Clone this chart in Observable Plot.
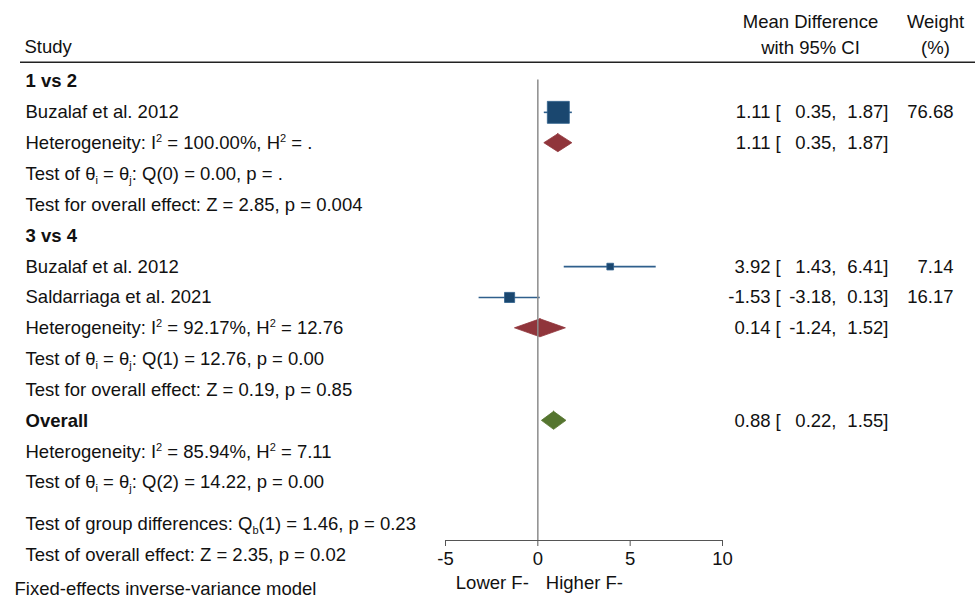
<!DOCTYPE html>
<html><head><meta charset="utf-8">
<script src="https://cdn.jsdelivr.net/npm/d3@7"></script>
<script src="https://cdn.jsdelivr.net/npm/@observablehq/plot@0.6"></script>
<style>
body{margin:0;background:#fff}
svg{display:block}
svg text{white-space:pre}
</style>
</head><body><div id="chart"></div>
<script>
// ---- data ----
const groups = ["1 vs 2", "3 vs 4"];
const studyNames = ["Buzalaf et al. 2012", "Buzalaf et al. 2012", "Saldarriaga et al. 2021"];
const studyGroup = [0, 1, 1];
const studyEst = [1.11, 3.92, -1.53];
const studyLo = [0.35, 1.43, -3.18];
const studyHi = [1.87, 6.41, 0.13];
const studyWeight = [76.68, 7.14, 16.17];
const subEst = [1.11, 0.14];
const subLo = [0.35, -1.24];
const subHi = [1.87, 1.52];
const subHeterogeneity = ["Heterogeneity: I^2 = 100.00%, H^2 = .", "Heterogeneity: I^2 = 92.17%, H^2 = 12.76"];
const subHomogeneity = ["Test of θ_i = θ_j: Q(0) = 0.00, p = .", "Test of θ_i = θ_j: Q(1) = 12.76, p = 0.00"];
const subEffect = ["Test for overall effect: Z = 2.85, p = 0.004", "Test for overall effect: Z = 0.19, p = 0.85"];
const overallLabel = "Overall";
const overallEst = 0.88;
const overallLo = 0.22;
const overallHi = 1.55;
const overallLines = ["Heterogeneity: I^2 = 85.94%, H^2 = 7.11", "Test of θ_i = θ_j: Q(2) = 14.22, p = 0.00"];
const footerLines = ["Test of group differences: Q_b(1) = 1.46, p = 0.23", "Test of overall effect: Z = 2.35, p = 0.02"];
const modelNote = "Fixed-effects inverse-variance model";
const xTicks = [-5, 0, 5, 10];
const xSideLabels = ["Lower F-", "Higher F-"];
const headerStudy = "Study";
const headerEffect = ["Mean Difference", "with 95% CI"];
const headerWeight = ["Weight", "(%)"];

// ---- layout ----
const W = 978, H = 598;
const rowTop = 81, rowStep = 30.85, nRows = 16;
const marginBottom = 58;
const axisRow = (H - marginBottom - rowTop) / rowStep;
const font = "'Liberation Sans', Arial, Helvetica, sans-serif";
const FS = 18.5;
const fmt = d3.formatLocale({decimal: ".", thousands: ",", grouping: [3], currency: ["", ""], minus: "-"}).format(".2f");
const blue = "#1a476f", red = "#90353b", green = "#55752f";

const left = [];      // text rows on the left
const studies = [];   // study rows
const diamonds = [];  // pooled rows
let r = 0;
groups.forEach((g, gi) => {
  left.push({row: r++, text: g, bold: true});
  studyNames.forEach((s, si) => {
    if (studyGroup[si] !== gi) return;
    left.push({row: r, text: s});
    studies.push({row: r, est: studyEst[si], lo: studyLo[si], hi: studyHi[si], w: studyWeight[si]});
    r++;
  });
  left.push({row: r, text: subHeterogeneity[gi]});
  diamonds.push({row: r, est: subEst[gi], lo: subLo[gi], hi: subHi[gi], color: red});
  r++;
  left.push({row: r++, text: subHomogeneity[gi]});
  left.push({row: r++, text: subEffect[gi]});
});
left.push({row: r, text: overallLabel, bold: true});
diamonds.push({row: r, est: overallEst, lo: overallLo, hi: overallHi, color: green});
r++;
overallLines.forEach(t => left.push({row: r++, text: t}));
r += 0.33; left.push({row: r, text: footerLines[0]});
r += 1.03; left.push({row: r, text: footerLines[1]});
r += 1.1;
const noteRow = r;

const halfH = 9 / rowStep;
const diamondPts = diamonds.flatMap((d, i) => [
  {id: i, row: d.row - halfH, x1: d.est, x2: d.est, color: d.color},
  {id: i, row: d.row, x1: d.lo, x2: d.hi, color: d.color},
  {id: i, row: d.row + halfH, x1: d.est, x2: d.est, color: d.color}
]);
const numRows = [
  ...studies.map(d => ({...d, weight: fmt(d.w)})),
  ...diamonds.map(d => ({...d, weight: ""}))
];

const txt = (data, o) => Plot.text(data, {frameAnchor: "left", fontSize: FS, fill: "#111", lineAnchor: "middle", ...o});

const chart = Plot.plot({
  width: W, height: H,
  marginTop: 0, marginLeft: 0, marginRight: 0, marginBottom,
  style: {fontFamily: font, fontSize: FS + "px", background: "#fff", color: "#111"},
  x: {domain: [xTicks[0], xTicks[xTicks.length - 1]], range: [445, 722]},
  y: {domain: [0, nRows], range: [rowTop, rowTop + rowStep * nRows], axis: null},
  r: {type: "sqrt", domain: [0, d3.max(studyWeight)], range: [0, 12.4]},
  marks: [
    // header
    txt([headerStudy], {y: () => -1.1, text: d => d, dx: 24}),
    txt(headerEffect, {y: (d, i) => [-1.91, -1.07][i], text: d => d, dx: 810, textAnchor: "middle"}),
    txt(headerWeight, {y: (d, i) => [-1.91, -1.07][i], text: d => d, dx: 935, textAnchor: "middle"}),
    Plot.ruleY([-0.62], {stroke: "#222", strokeWidth: 1.5, insetLeft: 20, insetRight: 3}),
    // left text
    txt(left.filter(d => d.bold), {y: "row", text: "text", dx: 25, fontWeight: "bold"}),
    txt(left.filter(d => !d.bold), {y: "row", text: "text", dx: 25}),
    txt([modelNote], {y: () => noteRow, text: d => d, dx: 14}),
    // diamonds
    Plot.areaX(diamondPts, {y: "row", x1: "x1", x2: "x2", z: "id", fill: d => d.color, stroke: d => d.color, strokeWidth: 0.8, curve: "linear"}),
    // CI lines and squares
    Plot.ruleY(studies, {y: "row", x1: "lo", x2: "hi", stroke: "#2f5f8c", strokeWidth: 1.6}),
    Plot.dot(studies, {x: "est", y: "row", r: "w", symbol: "square", fill: blue, stroke: "#2f5f8c", strokeWidth: 0.8}),
    // reference line at 0
    Plot.ruleX([0], {y1: -0.05, y2: axisRow, stroke: "#8c8c8c", strokeWidth: 1.5}),
    // axis
    Plot.ruleY([axisRow], {x1: xTicks[0], x2: xTicks[xTicks.length - 1], stroke: "#555", strokeWidth: 1.2}),
    Plot.axisX(xTicks, {anchor: "bottom", tickSize: 6, tickPadding: 5, fontSize: FS, stroke: "#555", fill: "#111", tickFormat: d => String(d)}),
    Plot.text([xSideLabels[0]], {x: () => 0, text: d => d, frameAnchor: "bottom", dy: 48, fontSize: FS, fill: "#111", textAnchor: "end", dx: -9}),
    Plot.text([xSideLabels[1]], {x: () => 0, text: d => d, frameAnchor: "bottom", dy: 48, fontSize: FS, fill: "#111", textAnchor: "start", dx: 8}),
    // numeric columns
    txt(numRows, {y: "row", text: d => fmt(d.est), dx: 770, textAnchor: "end"}),
    txt(numRows, {y: "row", text: () => "[", dx: 775, textAnchor: "start"}),
    txt(numRows, {y: "row", text: d => fmt(d.lo) + ",", dx: 836, textAnchor: "end"}),
    txt(numRows, {y: "row", text: d => fmt(d.hi) + "]", dx: 888, textAnchor: "end"}),
    txt(numRows, {y: "row", text: "weight", dx: 953, textAnchor: "end"})
  ]
});
document.getElementById("chart").append(chart);

// superscripts / subscripts: ^x and _x
d3.select(chart).selectAll("text").each(function() {
  const t = this.textContent;
  if (!/[\^_]\w/.test(t)) return;
  const sel = d3.select(this);
  sel.text(null);
  let shift = 0;
  t.split(/([\^_]\w)/).forEach(p => {
    if (!p) return;
    let target = 0, size = null, s = p;
    if (/^[\^_]\w$/.test(p)) { target = p[0] === "^" ? -7 : 4; size = 11; s = p[1]; }
    const ts = sel.append("tspan").text(s);
    if (target !== shift) { ts.attr("dy", target - shift); shift = target; }
    if (size) ts.attr("font-size", size);
  });
});
</script>
</body></html>
